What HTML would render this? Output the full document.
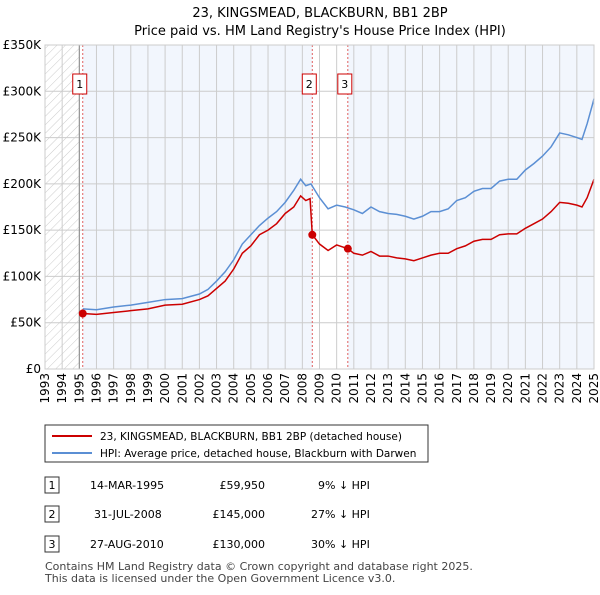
<!DOCTYPE html>
<html><head><meta charset="utf-8"><style>
body{margin:0;width:600px;height:590px;background:#fff;font-family:"Liberation Sans","DejaVu Sans",sans-serif;overflow:hidden}
svg text{font-family:"DejaVu Sans","Liberation Sans",sans-serif}
</style></head><body>
<svg id="chart" width="600" height="590" xmlns="http://www.w3.org/2000/svg">
<defs><pattern id="hatch" width="6" height="6" patternUnits="userSpaceOnUse" patternTransform="rotate(45)"><line x1="0" y1="0" x2="0" y2="6" stroke="#ccc" stroke-width="1"/></pattern></defs>
<text x="320" y="17" text-anchor="middle" font-size="13">23, KINGSMEAD, BLACKBURN, BB1 2BP</text>
<text x="320" y="35" text-anchor="middle" font-size="13">Price paid vs. HM Land Registry's House Price Index (HPI)</text>
<g id="plot"></g>
<g>
<rect x="45" y="425" width="383" height="37" fill="#fff" stroke="#333"/>
<line x1="52" y1="436" x2="92" y2="436" stroke="#cc0000" stroke-width="2"/>
<text x="100" y="440" font-size="10.5">23, KINGSMEAD, BLACKBURN, BB1 2BP (detached house)</text>
<line x1="52" y1="453" x2="92" y2="453" stroke="#5b8fd4" stroke-width="2"/>
<text x="100" y="457" font-size="10.5">HPI: Average price, detached house, Blackburn with Darwen</text>
</g>
<g font-size="11">
<rect x="45" y="477" width="14" height="16" fill="#fff" stroke="#333"/><text x="52" y="489" text-anchor="middle">1</text>
<text x="90" y="489">14-MAR-1995</text><text x="265" y="489" text-anchor="end">£59,950</text><text x="318" y="489">9% ↓ HPI</text>
<rect x="45" y="506" width="14" height="16" fill="#fff" stroke="#333"/><text x="52" y="518" text-anchor="middle">2</text>
<text x="94" y="518">31-JUL-2008</text><text x="265" y="518" text-anchor="end">£145,000</text><text x="311" y="518">27% ↓ HPI</text>
<rect x="45" y="536" width="14" height="16" fill="#fff" stroke="#333"/><text x="52" y="548" text-anchor="middle">3</text>
<text x="90" y="548">27-AUG-2010</text><text x="265" y="548" text-anchor="end">£130,000</text><text x="311" y="548">30% ↓ HPI</text>
</g>
<text x="45" y="570" font-size="11" fill="#444">Contains HM Land Registry data © Crown copyright and database right 2025.</text>
<text x="45" y="582" font-size="11" fill="#444">This data is licensed under the Open Government Licence v3.0.</text>
</svg>
<script>
const hpiYears=[1995.2,1996,1997,1998,1999,2000,2001,2002,2002.5,2003,2003.5,2004,2004.5,2005,2005.5,2006,2006.5,2007,2007.5,2007.9,2008.2,2008.5,2009,2009.5,2010,2010.5,2011,2011.5,2012,2012.5,2013,2013.5,2014,2014.5,2015,2015.5,2016,2016.5,2017,2017.5,2018,2018.5,2019,2019.5,2020,2020.5,2021,2021.5,2022,2022.5,2023,2023.5,2024,2024.3,2024.6,2024.9,2025];
const hpiValues=[65,64,67,69,72,75,76,81,86,95,105,118,135,145,155,163,170,180,193,205,198,200,185,173,177,175,172,168,175,170,168,167,165,162,165,170,170,173,182,185,192,195,195,203,205,205,215,222,230,240,255,253,250,248,265,285,292];
const priceYears=[1995.2,1996,1997,1998,1999,2000,2001,2002,2002.5,2003,2003.5,2004,2004.5,2005,2005.5,2006,2006.5,2007,2007.5,2007.9,2008.2,2008.45,2008.58,2009,2009.5,2010,2010.65,2011,2011.5,2012,2012.5,2013,2013.5,2014,2014.5,2015,2015.5,2016,2016.5,2017,2017.5,2018,2018.5,2019,2019.5,2020,2020.5,2021,2021.5,2022,2022.5,2023,2023.5,2024,2024.3,2024.6,2024.9,2025];
const priceValues=[60,59,61,63,65,69,70,75,79,87,95,108,125,133,145,150,157,168,175,187,182,184,145,135,128,134,130,125,123,127,122,122,120,119,117,120,123,125,125,130,133,138,140,140,145,146,146,152,157,162,170,180,179,177,175,185,200,205];
const saleYears=[1995.2,2008.58,2010.65];
const saleValues=[59.95,145,130];
const saleLabels=["1","2","3"];
const yTicks=[0,50,100,150,200,250,300,350];
const yTickLabels=["£0","£50K","£100K","£150K","£200K","£250K","£300K","£350K"];
const xTicks=[1993,1994,1995,1996,1997,1998,1999,2000,2001,2002,2003,2004,2005,2006,2007,2008,2009,2010,2011,2012,2013,2014,2015,2016,2017,2018,2019,2020,2021,2022,2023,2024,2025];

const L=45,R=594,T=45,B=369;
const x=v=>L+(v-1993)/(2025-1993)*(R-L);
const y=v=>B-v/350*(B-T);
const NS="http://www.w3.org/2000/svg";
const g=document.getElementById('plot');
function mk(t,a){const e=document.createElementNS(NS,t);for(const k in a)e.setAttribute(k,a[k]);g.appendChild(e);return e;}

let e=mk('rect',{x:L,y:T,width:R-L,height:B-T,fill:'#fff'});


e=mk('rect',{x:x(saleYears[0]),y:T,width:x(saleYears[1])-x(saleYears[0]),height:B-T,fill:'#eef3fc',opacity:0.75});


e=mk('rect',{x:x(saleYears[2]),y:T,width:R-x(saleYears[2]),height:B-T,fill:'#eef3fc',opacity:0.75});


e=mk('rect',{x:L,y:T,width:x(1995)-L,height:B-T,fill:'url(#hatch)'});



yTicks.forEach((v,i)=>{
  e=mk('line',{x1:L,x2:R,y1:y(v),y2:y(v),stroke:'#ccc','stroke-width':1});
  
  
  e=mk('text',{x:L-4,y:y(v)+4,'text-anchor':'end','font-size':12});
  e.textContent=yTickLabels[i];
  
  
});
xTicks.forEach(v=>{
  e=mk('line',{x1:x(v),x2:x(v),y1:T,y2:B,stroke:'#ccc','stroke-width':1});
  
  
  e=mk('text',{x:0,y:0,'text-anchor':'end','font-size':12,transform:`translate(${x(v)+4},${B+4}) rotate(-90)`});
  e.textContent=v;
  
  
});
e=mk('line',{x1:x(1995),x2:x(1995),y1:T,y2:B,stroke:'#888','stroke-width':1});



saleYears.forEach((v,i)=>{
  e=mk('line',{x1:x(v),x2:x(v),y1:T,y2:B,stroke:'#e06060','stroke-width':1,'stroke-dasharray':'2,2'});
  
  
  e=mk('rect',{x:x(v)-10,y:74,width:14,height:20,fill:'#fff',stroke:'#cc0000'});
  
  
  e=mk('text',{x:x(v)-3,y:88,'text-anchor':'middle','font-size':11});
  e.textContent=saleLabels[i];
  
  
});

e=mk('polyline',{points:hpiYears.map((v,i)=>x(v)+','+y(hpiValues[i])).join(' '),fill:'none',stroke:'#5b8fd4','stroke-width':1.5});


e=mk('polyline',{points:priceYears.map((v,i)=>x(v)+','+y(priceValues[i])).join(' '),fill:'none',stroke:'#cc0000','stroke-width':1.5});


saleYears.forEach((v,i)=>{
  e=mk('circle',{cx:x(v),cy:y(saleValues[i]),r:4,fill:'#cc0000'});
  
  
});
e=mk('rect',{x:L,y:T,width:R-L,height:B-T,fill:'none',stroke:'#ccc'});


</script>
</body></html>
